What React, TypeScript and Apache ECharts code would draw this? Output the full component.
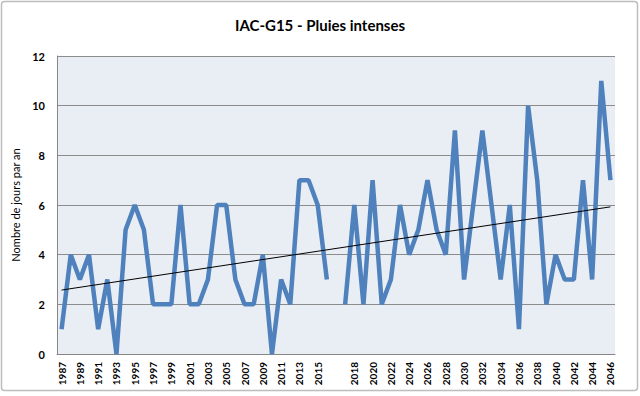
import React, { useEffect, useRef } from "react";
import * as echarts from "echarts";

const years: string[] = [
  "1987","1988","1989","1990","1991","1992","1993","1994","1995","1996",
  "1997","1998","1999","2000","2001","2002","2003","2004","2005","2006",
  "2007","2008","2009","2010","2011","2012","2013","2014","2015","2016",
  "",
  "2017","2018","2019","2020","2021","2022","2023","2024","2025","2026",
  "2027","2028","2029","2030","2031","2032","2033","2034","2035","2036",
  "2037","2038","2039","2040","2041","2042","2043","2044","2045","2046",
];

const days: (number | null)[] = [
  1, 4, 3, 4, 1, 3, 0, 5, 6, 5,
  2, 2, 2, 6, 2, 2, 3, 6, 6, 3,
  2, 2, 4, 0, 3, 2, 7, 7, 6, 3,
  null,
  2, 6, 2, 7, 2, 3, 6, 4, 5, 7,
  5, 4, 9, 3, 6, 9, 6, 3, 6, 1,
  10, 7, 2, 4, 3, 3, 7, 3, 11, 7,
];

const yTicks = { min: 0, max: 12, interval: 2 };
const titleText = "IAC-G15 - Pluies intenses";
const yName = "Nombre de jours par an";

function trendPoints(vals: (number | null)[]): [number, number][] {
  const pts: [number, number][] = [];
  vals.forEach((v, i) => { if (v !== null) pts.push([i, v]); });
  const n = pts.length;
  const mx = pts.reduce((s, p) => s + p[0], 0) / n;
  const my = pts.reduce((s, p) => s + p[1], 0) / n;
  let sxy = 0, sxx = 0;
  pts.forEach(([x, y]) => { sxy += (x - mx) * (y - my); sxx += (x - mx) * (x - mx); });
  const b = sxy / sxx;
  const a = my - b * mx;
  const x0 = 0, x1 = vals.length - 1;
  return [[x0, a + b * x0], [x1, a + b * x1]];
}

export default function App() {
  const ref = useRef<HTMLDivElement>(null);
  useEffect(() => {
    if (!ref.current) return;
    const chart = echarts.init(ref.current, undefined, { renderer: "svg" });
    const font = "Lato, 'Open Sans', sans-serif";
    chart.setOption({
      animation: false,
      backgroundColor: "#ffffff",
      textStyle: { fontFamily: font },
      title: {
        text: titleText,
        left: "center",
        top: 12,
        textStyle: { fontSize: 15, fontWeight: "bold", color: "#000", fontFamily: font },
      },
      graphic: [
        {
          type: "rect",
          shape: { x: 1.5, y: 1.5, width: 636, height: 389, r: 3 },
          style: { fill: "none", stroke: "#bdbdbd", lineWidth: 1.5 },
          silent: true,
        },
      ],
      grid: { left: 57, right: 25, top: 56, bottom: 42, show: true, backgroundColor: "#e9edf4", borderWidth: 0 },
      xAxis: {
        type: "category",
        data: years,
        boundaryGap: true,
        axisLine: { show: true, lineStyle: { color: "#868686", width: 1 } },
        axisTick: { show: false },
        axisLabel: {
          interval: 1,
          rotate: 90,
          fontSize: 10,
          fontWeight: "bold",
          color: "#000",
          margin: 8,
          fontFamily: font,
        },
      },
      yAxis: {
        type: "value",
        min: yTicks.min,
        max: yTicks.max,
        interval: yTicks.interval,
        name: yName,
        nameLocation: "middle",
        nameRotate: 90,
        nameGap: 34,
        nameTextStyle: { fontSize: 11, color: "#000", fontFamily: font },
        axisLine: { show: true, lineStyle: { color: "#868686", width: 1 } },
        axisTick: { show: false },
        axisLabel: { fontSize: 11, fontWeight: "bold", color: "#000", margin: 12, fontFamily: font },
        splitLine: { show: true, lineStyle: { color: "#8c8c8c", width: 1 } },
      },
      series: [
        {
          type: "line",
          data: days,
          symbol: "none",
          connectNulls: false,
          lineStyle: { color: "#4f81bd", width: 4.5 },
          itemStyle: { color: "#4f81bd" },
          z: 2,
        },
        {
          type: "line",
          data: trendPoints(days),
          symbol: "none",
          lineStyle: { color: "#000", width: 1 },
          itemStyle: { color: "#000" },
          z: 3,
        },
      ],
    });
    return () => chart.dispose();
  }, []);
  return (
    <div
      ref={ref}
      style={{ position: "fixed", left: 0, top: 0, width: 640, height: 396 }}
    />
  );
}
